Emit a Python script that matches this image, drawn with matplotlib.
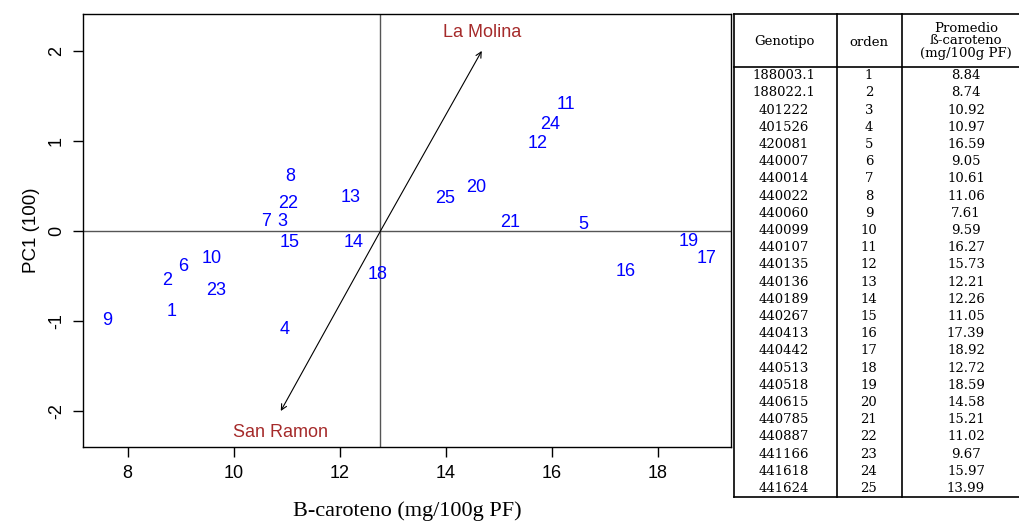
import matplotlib
matplotlib.use("Agg")
import matplotlib.pyplot as plt
from matplotlib.lines import Line2D

genotipo = ["188003.1", "188022.1", "401222", "401526", "420081", "440007", "440014",
            "440022", "440060", "440099", "440107", "440135", "440136", "440189",
            "440267", "440413", "440442", "440513", "440518", "440615", "440785",
            "440887", "441166", "441618", "441624"]
orden = list(range(1, 26))
promedio = [8.84, 8.74, 10.92, 10.97, 16.59, 9.05, 10.61, 11.06, 7.61, 9.59, 16.27,
            15.73, 12.21, 12.26, 11.05, 17.39, 18.92, 12.72, 18.59, 14.58, 15.21,
            11.02, 9.67, 15.97, 13.99]
pc1 = [-0.89, -0.55, 0.10, -1.09, 0.07, -0.40, 0.10, 0.61, -1.00, -0.31, 1.40,
       0.97, 0.37, -0.13, -0.13, -0.45, -0.31, -0.48, -0.12, 0.48, 0.09, 0.31,
       -0.66, 1.18, 0.36]
env_names = ["La Molina", "San Ramon"]
env_dx = [1.91, -1.88]
env_dy = [2.00, -2.00]
env_label_dy = [2.20, -2.24]
x_center = 12.77
xticks = [8, 10, 12, 14, 16, 18]
yticks = [-2, -1, 0, 1, 2]

W, H = 1019, 521
fig = plt.figure(figsize=(W / 100, H / 100), dpi=100)
sans = "Liberation Sans"
serif = "Liberation Serif"
tserif = "DejaVu Serif"

ax = fig.add_axes([83 / W, 1 - 447 / H, (731 - 83) / W, (447 - 14) / H])
ax.set_xlim(7.16, 19.38)
ax.set_ylim(-2.40, 2.41)
for s in ax.spines.values():
    s.set_linewidth(1.0)
    s.set_color("black")
ax.axhline(0, color="#555555", lw=1.0, zorder=1)
ax.axvline(x_center, color="#555555", lw=1.0, zorder=1)

for o, xv, yv in zip(orden, promedio, pc1):
    ax.text(xv, yv, str(o), color="#0000FF", fontsize=13, family=sans,
            ha="center", va="center", zorder=3)

for name, dx, dy, ly in zip(env_names, env_dx, env_dy, env_label_dy):
    ax.annotate("", xy=(x_center + dx, dy), xytext=(x_center, 0),
                arrowprops=dict(arrowstyle="->", color="black", lw=0.8,
                                shrinkA=0, shrinkB=0, mutation_scale=10))
    ax.text(x_center + dx, ly, name, color="#A52A2A", fontsize=13, family=sans,
            ha="center", va="center")

ax.set_xticks(xticks)
ax.set_yticks(yticks)
ax.set_xticklabels([str(t) for t in xticks], family=sans, fontsize=13)
ax.set_yticklabels([str(t) for t in yticks], family=sans, fontsize=13,
                   rotation=90, va="center")
ax.tick_params(direction="out", length=7, width=1, pad=6)
ax.set_xlabel("B-caroteno (mg/100g PF)", family=serif, fontsize=16, labelpad=14)
ax.set_ylabel("PC1 (100)", family=sans, fontsize=13.5, labelpad=6)

# Table
tx0, tx1 = 734, 1019
ty0, ty1 = 14, 497
hdr = 67
c1, c2 = 837, 902
tab = fig.add_axes([0, 0, 1, 1], facecolor="none")
tab.set_xlim(0, W)
tab.set_ylim(H, 0)
tab.axis("off")
lk = dict(color="black", lw=1.2)
tab.add_line(Line2D([tx0, tx0], [ty0, ty1], **lk))
tab.add_line(Line2D([tx0, tx1], [ty0, ty0], **lk))
tab.add_line(Line2D([tx0, tx1], [ty1, ty1], **lk))
tab.add_line(Line2D([tx0, tx1], [hdr, hdr], **lk))
tab.add_line(Line2D([c1, c1], [ty0, ty1], **lk))
tab.add_line(Line2D([c2, c2], [ty0, ty1], **lk))

fs = 9.5
tab.text(784, 42, "Genotipo", family=tserif, fontsize=fs, ha="center", va="center")
tab.text(869, 42, "orden", family=tserif, fontsize=fs, ha="center", va="center")
tab.text(966, 41, "Promedio\nß-caroteno\n(mg/100g PF)", family=tserif, fontsize=fs,
         ha="center", va="center", linespacing=1.0)
rh = (ty1 - hdr) / len(genotipo)
for i, (g, o, p) in enumerate(zip(genotipo, orden, promedio)):
    yc = hdr + rh * (i + 0.5)
    tab.text(784, yc, g, family=tserif, fontsize=fs, ha="center", va="center")
    tab.text(869, yc, str(o), family=tserif, fontsize=fs, ha="center", va="center")
    tab.text(966, yc, f"{p:.2f}", family=tserif, fontsize=fs, ha="center", va="center")

fig.savefig("out.png", dpi=100)
